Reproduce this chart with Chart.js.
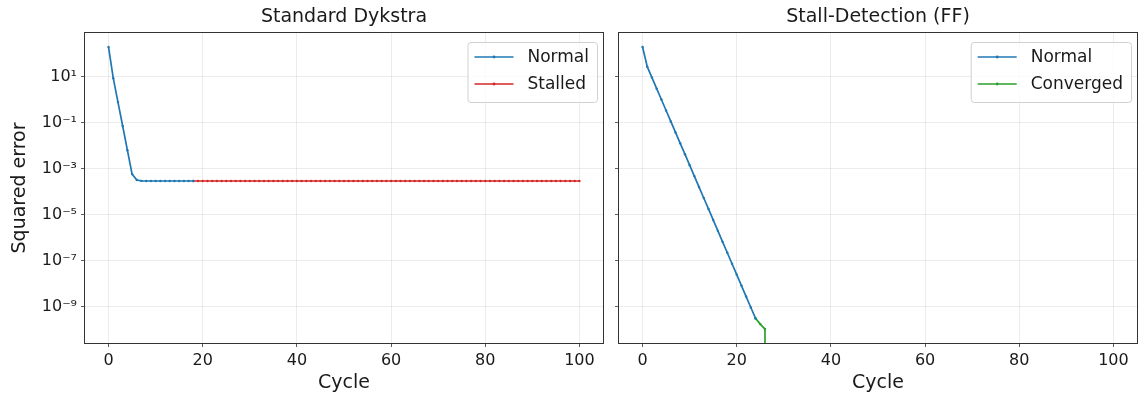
<!DOCTYPE html>
<html>
<head>
<meta charset="utf-8">
<script src="https://cdn.jsdelivr.net/npm/chart.js@4.4.1/dist/chart.umd.min.js"></script>
<style>
  body { margin: 0; background: #fff; }
  #wrap { position: relative; width: 1144px; height: 400px; }
  canvas { position: absolute; top: 0; }
  #left { left: 0; }
  #right { left: 612px; }
</style>
</head>
<body>
<div id="wrap">
  <canvas id="left" width="612" height="400"></canvas>
  <canvas id="right" width="532" height="400"></canvas>
</div>
<script>
// axis ticks
const xTicks = [0, 20, 40, 60, 80, 100];
const yTicks = [1e1, 1e-1, 1e-3, 1e-5, 1e-7, 1e-9];
const yTickLabels = ['10¹', '10⁻¹', '10⁻³', '10⁻⁵', '10⁻⁷', '10⁻⁹'];
const xRange = [-5, 105];
const yRange = [2.72e-11, 818];

// Standard Dykstra: squared error per cycle
const dykstraNormalStart = 0;
const dykstraNormal = [200, 8.9, 0.81, 0.074, 0.0066, 6.0e-4, 3.3e-4, 3.05e-4, 3.0e-4, 3.0e-4,
  3.0e-4, 3.0e-4, 3.0e-4, 3.0e-4, 3.0e-4, 3.0e-4, 3.0e-4, 3.0e-4, 3.0e-4];
const dykstraStalledStart = 18;
const dykstraStalled = [
  3.0e-4, 3.0e-4, 3.0e-4, 3.0e-4, 3.0e-4, 3.0e-4, 3.0e-4, 3.0e-4, 3.0e-4, 3.0e-4,
  3.0e-4, 3.0e-4, 3.0e-4, 3.0e-4, 3.0e-4, 3.0e-4, 3.0e-4, 3.0e-4, 3.0e-4, 3.0e-4,
  3.0e-4, 3.0e-4, 3.0e-4, 3.0e-4, 3.0e-4, 3.0e-4, 3.0e-4, 3.0e-4, 3.0e-4, 3.0e-4,
  3.0e-4, 3.0e-4, 3.0e-4, 3.0e-4, 3.0e-4, 3.0e-4, 3.0e-4, 3.0e-4, 3.0e-4, 3.0e-4,
  3.0e-4, 3.0e-4, 3.0e-4, 3.0e-4, 3.0e-4, 3.0e-4, 3.0e-4, 3.0e-4, 3.0e-4, 3.0e-4,
  3.0e-4, 3.0e-4, 3.0e-4, 3.0e-4, 3.0e-4, 3.0e-4, 3.0e-4, 3.0e-4, 3.0e-4, 3.0e-4,
  3.0e-4, 3.0e-4, 3.0e-4, 3.0e-4, 3.0e-4, 3.0e-4, 3.0e-4, 3.0e-4, 3.0e-4, 3.0e-4,
  3.0e-4, 3.0e-4, 3.0e-4, 3.0e-4, 3.0e-4, 3.0e-4, 3.0e-4, 3.0e-4, 3.0e-4, 3.0e-4,
  3.0e-4, 3.0e-4, 3.0e-4];

// Stall-Detection (FF)
const ffNormalStart = 0;
const ffNormal = [200, 28, 9.4, 3.1, 1.05, 0.35, 0.117, 0.039, 0.0131, 0.0044,
  0.00147, 4.9e-4, 1.64e-4, 5.5e-5, 1.83e-5, 6.1e-6, 2.04e-6, 6.8e-7, 2.28e-7, 7.6e-8,
  2.55e-8, 8.5e-9, 2.84e-9, 9.5e-10, 3.2e-10];
const ffConvergedCycles = [24, 25, 26, 26];
const ffConverged = [3.2e-10, 1.8e-10, 1.1e-10, 1e-13];

const BLUE = '#1f77b4', RED = '#d62728', GREEN = '#2ca02c';
const FONT = "'DejaVu Sans', sans-serif";

Chart.defaults.font.family = FONT;
Chart.defaults.color = '#1a1a1a';

const run = (start, n) => Array.from({ length: n }, (_, i) => start + i);
const toPoints = (cycles, values) => values.map((v, i) => ({ x: cycles[i], y: v }));

function lineSet(label, color, points) {
  return {
    label, data: points,
    borderColor: color, backgroundColor: color,
    borderWidth: 1.7, pointRadius: 1.2, pointHoverRadius: 1.2,
    pointBorderWidth: 0, tension: 0
  };
}

// top/right spines
const framePlugin = {
  id: 'frame',
  afterDatasetsDraw(chart) {
    const { ctx, chartArea: a } = chart;
    ctx.save();
    ctx.strokeStyle = '#333';
    ctx.lineWidth = 1;
    ctx.strokeRect(Math.round(a.left) - 0.5, Math.round(a.top) - 0.5,
      Math.round(a.right - a.left) + 1, Math.round(a.bottom - a.top) + 1);
    ctx.restore();
  }
};

// matplotlib style legend inside the axes, upper right
const boxLegend = {
  id: 'boxLegend',
  afterDraw(chart) {
    const { ctx, chartArea: a } = chart;
    const sets = chart.data.datasets;
    ctx.save();
    ctx.font = '17px ' + FONT;
    const textW = Math.max(...sets.map(d => ctx.measureText(d.label).width));
    const padL = 7, handle = 39, gap = 14, padR = 8;
    const w = padL + handle + gap + textW + padR, h = 60;
    const x = a.right - 6 - w, y = a.top + 9;
    ctx.beginPath();
    ctx.roundRect(x + 0.5, y + 0.5, w, h, 3);
    ctx.fillStyle = 'rgba(255,255,255,0.8)';
    ctx.fill();
    ctx.strokeStyle = '#d0d0d0';
    ctx.lineWidth = 1;
    ctx.stroke();
    sets.forEach((d, i) => {
      const cy = y + 15 + i * 27;
      ctx.strokeStyle = d.borderColor;
      ctx.lineWidth = 1.6;
      ctx.beginPath();
      ctx.moveTo(x + padL, cy);
      ctx.lineTo(x + padL + handle, cy);
      ctx.stroke();
      ctx.fillStyle = d.borderColor;
      ctx.beginPath();
      ctx.arc(x + padL + handle / 2, cy, 1.4, 0, Math.PI * 2);
      ctx.fill();
      ctx.fillStyle = '#1a1a1a';
      ctx.textBaseline = 'middle';
      ctx.fillText(d.label, x + padL + handle + gap, cy + 1);
    });
    ctx.restore();
  }
};

function makeChart(id, title, datasets, showY, yWidth, padRight) {
  return new Chart(document.getElementById(id), {
    type: 'line',
    data: { datasets },
    options: {
      responsive: false,
      animation: false,
      layout: { padding: { left: 0, top: 0, bottom: 0, right: padRight } },
      plugins: {
        legend: { display: false },
        tooltip: { enabled: false },
        title: {
          display: true, text: title, fullSize: false,
          color: '#1a1a1a',
          font: { size: 19, weight: 'normal' },
          padding: { top: 5.6, bottom: 4.6 }
        }
      },
      scales: {
        x: {
          type: 'linear', min: xRange[0], max: xRange[1],
          afterBuildTicks: s => { s.ticks = xTicks.map(v => ({ value: v })); },
          afterFit: s => { s.height = 57; },
          ticks: { font: { size: 16 }, padding: 4, autoSkip: false, maxRotation: 0 },
          grid: { color: 'rgba(176,176,176,0.3)', tickColor: '#333', tickLength: 4, lineWidth: 0.8 },
          border: { display: false },
          title: { display: true, text: 'Cycle', font: { size: 19 }, padding: { top: 0, bottom: 5.6 } }
        },
        y: {
          type: 'logarithmic', min: yRange[0], max: yRange[1],
          afterBuildTicks: s => { s.ticks = yTicks.map(v => ({ value: v })); },
          afterFit: s => { s.width = yWidth; },
          ticks: {
            display: showY, font: { size: 16 }, padding: 4, autoSkip: false,
            callback: (v, i) => yTickLabels[i]
          },
          grid: { color: 'rgba(176,176,176,0.3)', tickColor: '#333', tickLength: 4, lineWidth: 0.8 },
          border: { display: false },
          title: { display: showY, text: 'Squared error', font: { size: 19 }, padding: { top: 8.6, bottom: 0 } }
        }
      }
    },
    plugins: [framePlugin, boxLegend]
  });
}

makeChart('left', 'Standard Dykstra', [
  lineSet('Normal', BLUE, toPoints(run(dykstraNormalStart, dykstraNormal.length), dykstraNormal)),
  lineSet('Stalled', RED, toPoints(run(dykstraStalledStart, dykstraStalled.length), dykstraStalled))
], true, 85, 9);

makeChart('right', 'Stall-Detection (FF)', [
  lineSet('Normal', BLUE, toPoints(run(ffNormalStart, ffNormal.length), ffNormal)),
  lineSet('Converged', GREEN, toPoints(ffConvergedCycles, ffConverged))
], false, 7, 7);
</script>
</body>
</html>
